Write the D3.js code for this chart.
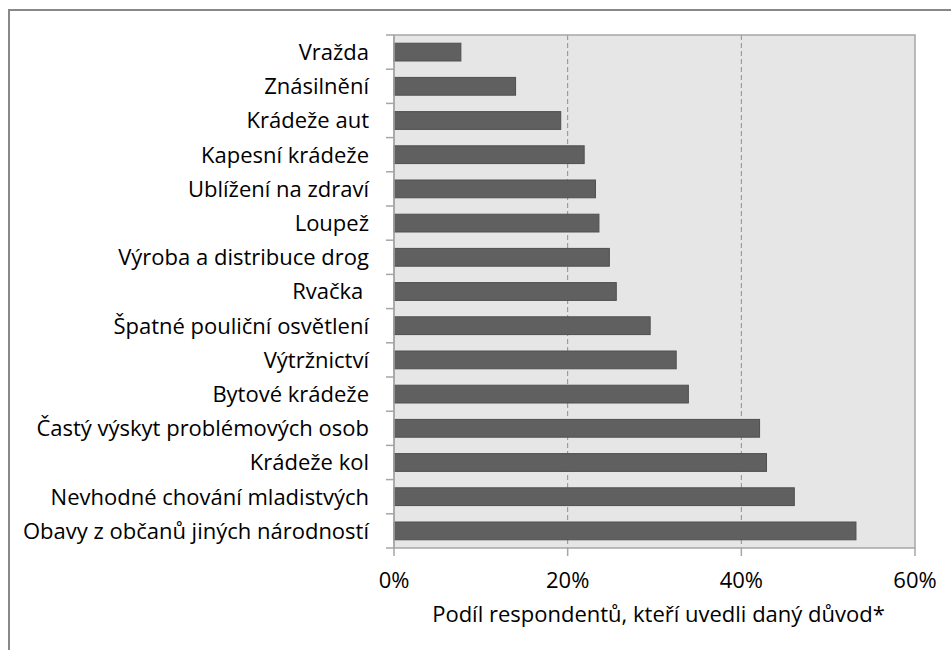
<!DOCTYPE html>
<html>
<head>
<meta charset="utf-8">
<script src="https://cdn.jsdelivr.net/npm/d3@7"></script>
<style>
  body { margin: 0; background: #fff; }
  svg { display: block; font-family: "Open Sans", sans-serif; }
</style>
</head>
<body>
<svg id="chart" width="951" height="650"></svg>
<script>
// reasons, top to bottom
var categories = [
  "Vražda", "Znásilnění", "Krádeže aut", "Kapesní krádeže", "Ublížení na zdraví",
  "Loupež", "Výroba a distribuce drog", "Rvačka ", "Špatné pouliční osvětlení",
  "Výtržnictví", "Bytové krádeže", "Častý výskyt problémových osob", "Krádeže kol",
  "Nevhodné chování mladistvých", "Obavy z občanů jiných národností"
];
var values = [0.077, 0.140, 0.192, 0.219, 0.232, 0.236, 0.248, 0.256, 0.295,
              0.325, 0.339, 0.421, 0.429, 0.461, 0.532];
var xTicks = [0, 0.2, 0.4, 0.6];
var xTitle = "Podíl respondentů, kteří uvedli daný důvod*";

var data = categories.map(function(c, i) { return { name: c, value: values[i] }; });

var svg = d3.select("#chart");
var margin = { top: 35, right: 36, bottom: 102, left: 394 };
var width = 951 - margin.left - margin.right,
    height = 650 - margin.top - margin.bottom;
var fontSize = "22px";

// outer chart frame (runs off the right and bottom edge)
svg.append("rect")
    .attr("x", 9).attr("y", 10)
    .attr("width", 980).attr("height", 700)
    .attr("fill", "none")
    .attr("stroke", "#888")
    .attr("stroke-width", 2);

var g = svg.append("g").attr("transform", "translate(" + margin.left + "," + margin.top + ")");

var x = d3.scaleLinear().domain([0, 0.6]).range([0, width]);
var y = d3.scaleBand().domain(categories).range([0, height])
    .paddingInner(0.48).paddingOuter(0.24);

// plot background
g.append("rect")
    .attr("width", width).attr("height", height)
    .attr("fill", "#e6e6e6");

// dashed gridlines
g.selectAll(".grid")
    .data(xTicks.slice(1, -1))
  .enter().append("line")
    .attr("class", "grid")
    .attr("x1", function(d) { return x(d); })
    .attr("x2", function(d) { return x(d); })
    .attr("y1", 0).attr("y2", height)
    .attr("stroke", "#8f8f8f")
    .attr("stroke-width", 1)
    .attr("stroke-dasharray", "5,3");

g.append("rect")
    .attr("width", width).attr("height", height)
    .attr("fill", "none")
    .attr("stroke", "#a6a6a6")
    .attr("stroke-width", 1.5);

// bars
g.selectAll(".bar")
    .data(data)
  .enter().append("rect")
    .attr("class", "bar")
    .attr("x", x(0))
    .attr("y", function(d) { return y(d.name); })
    .attr("width", function(d) { return x(d.value); })
    .attr("height", y.bandwidth())
    .attr("fill", "#606060")
    .attr("stroke", "#4f4f4f")
    .attr("stroke-width", 1);

// category ticks on the band edges
var edges = categories.map(function(c) { return y(c) - y.step() * y.paddingInner() / 2; });
edges.push(height);
g.selectAll(".ytick")
    .data(edges)
  .enter().append("line")
    .attr("x1", -8).attr("x2", 0)
    .attr("y1", function(d) { return d; })
    .attr("y2", function(d) { return d; })
    .attr("stroke", "#a6a6a6")
    .attr("stroke-width", 1.5);

g.append("line")
    .attr("x1", 0).attr("x2", 0)
    .attr("y1", 0).attr("y2", height)
    .attr("stroke", "#a6a6a6")
    .attr("stroke-width", 1.5);

g.selectAll(".ylabel")
    .data(data)
  .enter().append("text")
    .attr("x", -25)
    .attr("y", function(d) { return y(d.name) + y.bandwidth() / 2; })
    .attr("dy", "0.36em")
    .attr("text-anchor", "end")
    .style("white-space", "pre")
    .style("font-size", fontSize)
    .style("fill", "#000")
    .text(function(d) { return d.name; });

// x axis ticks and labels
g.selectAll(".xtick")
    .data(xTicks)
  .enter().append("line")
    .attr("x1", function(d) { return x(d); })
    .attr("x2", function(d) { return x(d); })
    .attr("y1", height).attr("y2", height + 8)
    .attr("stroke", "#a6a6a6")
    .attr("stroke-width", 1.5);

g.selectAll(".xlabel")
    .data(xTicks)
  .enter().append("text")
    .attr("x", function(d) { return x(d); })
    .attr("y", height + 40)
    .attr("text-anchor", "middle")
    .style("font-size", fontSize)
    .style("fill", "#000")
    .text(d3.format(".0%"));

g.append("text")
    .attr("x", width / 2 + 4)
    .attr("y", height + 74)
    .attr("text-anchor", "middle")
    .style("font-size", fontSize)
    .style("fill", "#000")
    .text(xTitle);
</script>
</body>
</html>
